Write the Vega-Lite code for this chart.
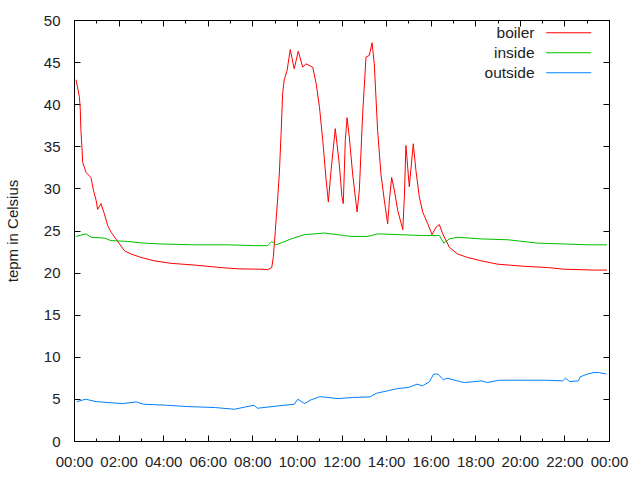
{
  "$schema": "https://vega.github.io/schema/vega-lite/v6.json",
  "width": 535,
  "height": 421,
  "autosize": {"type": "none"},
  "padding": {"left": 74, "top": 20, "right": 31, "bottom": 39},
  "config": {
    "view": {"stroke": "#000000", "strokeWidth": 1},
    "font": "Liberation Sans",
    "axis": {
      "grid": false,
      "domain": false,
      "labelFont": "Liberation Sans",
      "labelFontSize": 15,
      "labelColor": "#222222",
      "titleFont": "Liberation Sans",
      "titleFontSize": 15,
      "titleFontWeight": "normal",
      "titleColor": "#222222",
      "tickColor": "#000000",
      "tickWidth": 1
    },
    "legend": {
      "labelFont": "Liberation Sans",
      "labelFontSize": 15.5,
      "labelColor": "#222222"
    }
  },
  "data": {
    "values": [
      {"t": 0.09, "s": "boiler", "v": 42.9}, {"t": 0.24, "s": "boiler", "v": 40.9}, {"t": 0.28, "s": "boiler", "v": 39.5}, {"t": 0.31, "s": "boiler", "v": 36.9}, {"t": 0.36, "s": "boiler", "v": 34.7}, {"t": 0.39, "s": "boiler", "v": 33.1}, {"t": 0.54, "s": "boiler", "v": 31.9}, {"t": 0.76, "s": "boiler", "v": 31.3}, {"t": 0.87, "s": "boiler", "v": 29.8}, {"t": 0.99, "s": "boiler", "v": 28.6}, {"t": 1.06, "s": "boiler", "v": 27.5}, {"t": 1.21, "s": "boiler", "v": 28.2}, {"t": 1.36, "s": "boiler", "v": 27.0}, {"t": 1.51, "s": "boiler", "v": 25.6}, {"t": 1.66, "s": "boiler", "v": 24.8}, {"t": 1.88, "s": "boiler", "v": 24.0}, {"t": 2.26, "s": "boiler", "v": 22.6}, {"t": 2.56, "s": "boiler", "v": 22.2}, {"t": 3.01, "s": "boiler", "v": 21.8}, {"t": 3.59, "s": "boiler", "v": 21.4}, {"t": 4.35, "s": "boiler", "v": 21.1}, {"t": 5.38, "s": "boiler", "v": 20.9}, {"t": 6.59, "s": "boiler", "v": 20.6}, {"t": 7.34, "s": "boiler", "v": 20.45}, {"t": 8.39, "s": "boiler", "v": 20.4}, {"t": 8.69, "s": "boiler", "v": 20.35}, {"t": 8.87, "s": "boiler", "v": 20.6}, {"t": 8.94, "s": "boiler", "v": 21.8}, {"t": 9.03, "s": "boiler", "v": 24.9}, {"t": 9.14, "s": "boiler", "v": 28.9}, {"t": 9.21, "s": "boiler", "v": 31.7}, {"t": 9.29, "s": "boiler", "v": 36.5}, {"t": 9.36, "s": "boiler", "v": 41.3}, {"t": 9.43, "s": "boiler", "v": 42.9}, {"t": 9.56, "s": "boiler", "v": 44.0}, {"t": 9.70, "s": "boiler", "v": 46.5}, {"t": 9.88, "s": "boiler", "v": 44.2}, {"t": 10.06, "s": "boiler", "v": 46.3}, {"t": 10.26, "s": "boiler", "v": 44.4}, {"t": 10.41, "s": "boiler", "v": 44.8}, {"t": 10.63, "s": "boiler", "v": 44.5}, {"t": 10.71, "s": "boiler", "v": 44.4}, {"t": 10.86, "s": "boiler", "v": 42.5}, {"t": 11.01, "s": "boiler", "v": 39.7}, {"t": 11.16, "s": "boiler", "v": 35.7}, {"t": 11.31, "s": "boiler", "v": 31.0}, {"t": 11.41, "s": "boiler", "v": 28.4}, {"t": 11.53, "s": "boiler", "v": 32.1}, {"t": 11.72, "s": "boiler", "v": 37.1}, {"t": 11.90, "s": "boiler", "v": 32.9}, {"t": 12.02, "s": "boiler", "v": 29.0}, {"t": 12.08, "s": "boiler", "v": 28.2}, {"t": 12.17, "s": "boiler", "v": 35.7}, {"t": 12.25, "s": "boiler", "v": 38.4}, {"t": 12.35, "s": "boiler", "v": 36.1}, {"t": 12.50, "s": "boiler", "v": 31.7}, {"t": 12.70, "s": "boiler", "v": 27.2}, {"t": 12.80, "s": "boiler", "v": 29.8}, {"t": 12.95, "s": "boiler", "v": 38.9}, {"t": 13.10, "s": "boiler", "v": 45.6}, {"t": 13.25, "s": "boiler", "v": 45.8}, {"t": 13.37, "s": "boiler", "v": 47.3}, {"t": 13.47, "s": "boiler", "v": 44.8}, {"t": 13.62, "s": "boiler", "v": 36.9}, {"t": 13.77, "s": "boiler", "v": 31.7}, {"t": 13.92, "s": "boiler", "v": 28.6}, {"t": 14.07, "s": "boiler", "v": 25.8}, {"t": 14.15, "s": "boiler", "v": 28.6}, {"t": 14.25, "s": "boiler", "v": 31.3}, {"t": 14.37, "s": "boiler", "v": 29.8}, {"t": 14.52, "s": "boiler", "v": 27.4}, {"t": 14.75, "s": "boiler", "v": 25.1}, {"t": 14.82, "s": "boiler", "v": 29.0}, {"t": 14.89, "s": "boiler", "v": 35.1}, {"t": 15.04, "s": "boiler", "v": 30.2}, {"t": 15.22, "s": "boiler", "v": 35.3}, {"t": 15.34, "s": "boiler", "v": 32.1}, {"t": 15.49, "s": "boiler", "v": 29.0}, {"t": 15.64, "s": "boiler", "v": 27.2}, {"t": 15.87, "s": "boiler", "v": 25.8}, {"t": 16.06, "s": "boiler", "v": 24.5}, {"t": 16.24, "s": "boiler", "v": 25.4}, {"t": 16.39, "s": "boiler", "v": 25.7}, {"t": 16.54, "s": "boiler", "v": 24.6}, {"t": 16.84, "s": "boiler", "v": 23.0}, {"t": 17.21, "s": "boiler", "v": 22.2}, {"t": 17.66, "s": "boiler", "v": 21.8}, {"t": 18.26, "s": "boiler", "v": 21.4}, {"t": 19.01, "s": "boiler", "v": 21.0}, {"t": 20.20, "s": "boiler", "v": 20.75}, {"t": 21.25, "s": "boiler", "v": 20.6}, {"t": 21.99, "s": "boiler", "v": 20.4}, {"t": 23.34, "s": "boiler", "v": 20.3}, {"t": 23.91, "s": "boiler", "v": 20.3},
      {"t": 0.09, "s": "inside", "v": 24.3}, {"t": 0.54, "s": "inside", "v": 24.6}, {"t": 0.76, "s": "inside", "v": 24.2}, {"t": 1.36, "s": "inside", "v": 24.1}, {"t": 1.66, "s": "inside", "v": 23.8}, {"t": 2.41, "s": "inside", "v": 23.7}, {"t": 3.15, "s": "inside", "v": 23.5}, {"t": 3.90, "s": "inside", "v": 23.4}, {"t": 5.40, "s": "inside", "v": 23.3}, {"t": 6.90, "s": "inside", "v": 23.3}, {"t": 8.09, "s": "inside", "v": 23.2}, {"t": 8.69, "s": "inside", "v": 23.2}, {"t": 8.87, "s": "inside", "v": 23.7}, {"t": 9.06, "s": "inside", "v": 23.3}, {"t": 9.36, "s": "inside", "v": 23.6}, {"t": 9.74, "s": "inside", "v": 24.0}, {"t": 10.33, "s": "inside", "v": 24.5}, {"t": 11.23, "s": "inside", "v": 24.7}, {"t": 12.43, "s": "inside", "v": 24.3}, {"t": 13.18, "s": "inside", "v": 24.3}, {"t": 13.62, "s": "inside", "v": 24.6}, {"t": 14.67, "s": "inside", "v": 24.5}, {"t": 15.64, "s": "inside", "v": 24.4}, {"t": 16.39, "s": "inside", "v": 24.4}, {"t": 16.59, "s": "inside", "v": 23.5}, {"t": 16.84, "s": "inside", "v": 24.0}, {"t": 17.21, "s": "inside", "v": 24.2}, {"t": 18.26, "s": "inside", "v": 24.0}, {"t": 19.46, "s": "inside", "v": 23.9}, {"t": 20.80, "s": "inside", "v": 23.5}, {"t": 21.99, "s": "inside", "v": 23.4}, {"t": 23.05, "s": "inside", "v": 23.3}, {"t": 23.91, "s": "inside", "v": 23.3},
      {"t": 0.13, "s": "outside", "v": 4.68}, {"t": 0.52, "s": "outside", "v": 4.96}, {"t": 0.99, "s": "outside", "v": 4.68}, {"t": 2.17, "s": "outside", "v": 4.44}, {"t": 2.80, "s": "outside", "v": 4.64}, {"t": 3.11, "s": "outside", "v": 4.37}, {"t": 4.14, "s": "outside", "v": 4.25}, {"t": 5.08, "s": "outside", "v": 4.09}, {"t": 6.34, "s": "outside", "v": 3.97}, {"t": 7.20, "s": "outside", "v": 3.77}, {"t": 8.07, "s": "outside", "v": 4.25}, {"t": 8.23, "s": "outside", "v": 3.89}, {"t": 9.17, "s": "outside", "v": 4.17}, {"t": 9.88, "s": "outside", "v": 4.37}, {"t": 10.04, "s": "outside", "v": 4.96}, {"t": 10.35, "s": "outside", "v": 4.44}, {"t": 10.59, "s": "outside", "v": 4.84}, {"t": 11.03, "s": "outside", "v": 5.27}, {"t": 11.85, "s": "outside", "v": 5.04}, {"t": 12.48, "s": "outside", "v": 5.16}, {"t": 13.27, "s": "outside", "v": 5.24}, {"t": 13.58, "s": "outside", "v": 5.68}, {"t": 14.05, "s": "outside", "v": 5.95}, {"t": 14.52, "s": "outside", "v": 6.23}, {"t": 14.99, "s": "outside", "v": 6.35}, {"t": 15.39, "s": "outside", "v": 6.75}, {"t": 15.63, "s": "outside", "v": 6.55}, {"t": 15.94, "s": "outside", "v": 7.02}, {"t": 16.13, "s": "outside", "v": 7.94}, {"t": 16.33, "s": "outside", "v": 7.94}, {"t": 16.57, "s": "outside", "v": 7.26}, {"t": 16.73, "s": "outside", "v": 7.46}, {"t": 17.20, "s": "outside", "v": 7.14}, {"t": 17.51, "s": "outside", "v": 6.94}, {"t": 18.30, "s": "outside", "v": 7.14}, {"t": 18.54, "s": "outside", "v": 6.94}, {"t": 19.08, "s": "outside", "v": 7.22}, {"t": 19.87, "s": "outside", "v": 7.22}, {"t": 21.13, "s": "outside", "v": 7.22}, {"t": 21.92, "s": "outside", "v": 7.14}, {"t": 22.05, "s": "outside", "v": 7.46}, {"t": 22.23, "s": "outside", "v": 7.06}, {"t": 22.63, "s": "outside", "v": 7.14}, {"t": 22.71, "s": "outside", "v": 7.62}, {"t": 23.02, "s": "outside", "v": 7.94}, {"t": 23.33, "s": "outside", "v": 8.13}, {"t": 23.57, "s": "outside", "v": 8.13}, {"t": 23.88, "s": "outside", "v": 7.94}
    ]
  },
  "resolve": {"axis": {"x": "independent", "y": "independent"}},
  "layer": [
    {
      "mark": {"type": "line", "strokeWidth": 1, "clip": true},
      "encoding": {
        "x": {
          "field": "t", "type": "quantitative",
          "scale": {"domain": [0, 24], "nice": false, "zero": false},
          "axis": {
            "orient": "bottom", "title": null,
            "values": [0, 2, 4, 6, 8, 10, 12, 14, 16, 18, 20, 22, 24],
            "tickSize": -6, "labelPadding": 19, "labelFlush": false, "labelOverlap": false,
            "labelExpr": "(datum.value % 24 < 10 ? '0' : '') + (datum.value % 24) + ':00'"
          }
        },
        "y": {
          "field": "v", "type": "quantitative",
          "scale": {"domain": [0, 50], "nice": false},
          "axis": {
            "orient": "left", "title": "tepm in Celsius",
            "values": [0, 5, 10, 15, 20, 25, 30, 35, 40, 45, 50],
            "tickSize": -6, "labelPadding": 20, "labelFlush": false, "labelOverlap": false,
            "titlePadding": 23
          }
        },
        "color": {
          "field": "s", "type": "nominal",
          "scale": {"domain": ["boiler", "inside", "outside"], "range": ["#ff0000", "#00c000", "#0080ff"]},
          "legend": {
            "title": null, "orient": "none", "legendX": 487, "legendY": 5,
            "padding": 0, "rowPadding": 3,
            "symbolType": "M-5,0H5", "symbolSize": 81, "symbolStrokeWidth": 1,
            "labelAlign": "right", "labelOffset": -42, "labelLimit": 200,
            "encode": {
              "symbols": {
                "update": {
                  "stroke": {"scale": "color", "field": "value"},
                  "fill": {"value": "transparent"}
                }
              }
            }
          }
        }
      }
    },
    {
      "mark": {"type": "point", "opacity": 0},
      "encoding": {
        "x": {
          "field": "t", "type": "quantitative",
          "axis": {
            "orient": "bottom", "title": null, "labels": false,
            "values": [1, 3, 5, 7, 9, 11, 13, 15, 17, 19, 21, 23], "tickSize": -3
          }
        },
        "y": {
          "field": "v", "type": "quantitative",
          "axis": {
            "orient": "right", "title": null, "labels": false,
            "values": [0, 5, 10, 15, 20, 25, 30, 35, 40, 45, 50], "tickSize": -6
          }
        }
      }
    },
    {
      "mark": {"type": "point", "opacity": 0},
      "encoding": {
        "x": {
          "field": "t", "type": "quantitative",
          "axis": {
            "orient": "top", "title": null, "labels": false,
            "values": [0, 2, 4, 6, 8, 10, 12, 14, 16, 18, 20, 22, 24], "tickSize": -6
          }
        },
        "y": {"field": "v", "type": "quantitative", "axis": null}
      }
    },
    {
      "mark": {"type": "point", "opacity": 0},
      "encoding": {
        "x": {
          "field": "t", "type": "quantitative",
          "axis": {
            "orient": "top", "title": null, "labels": false,
            "values": [1, 3, 5, 7, 9, 11, 13, 15, 17, 19, 21, 23], "tickSize": -3
          }
        },
        "y": {"field": "v", "type": "quantitative", "axis": null}
      }
    }
  ]
}
